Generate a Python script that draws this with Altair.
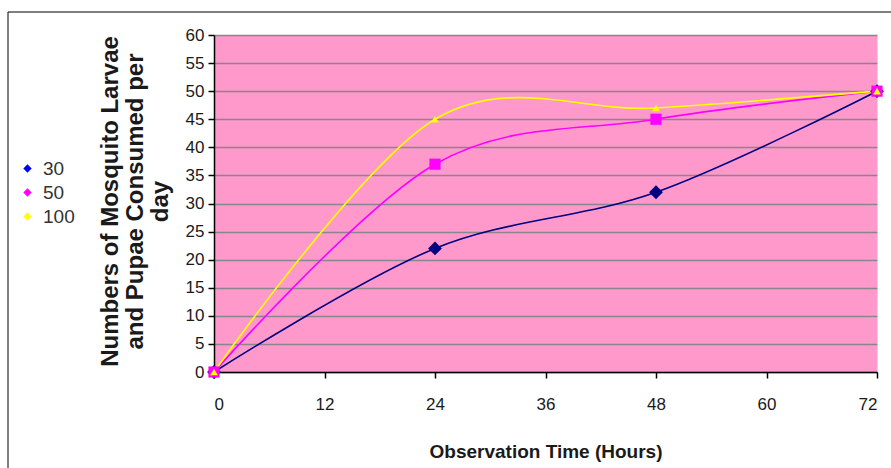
import altair as alt
import pandas as pd

hours = [0, 24, 48, 72]
series_names = ["30", "50", "100"]
s30 = [0, 22, 32, 50]
s50 = [0, 37, 45, 50]
s100 = [0, 45, 47, 50]
y_ticks = list(range(0, 61, 5))
x_ticks = [0, 12, 24, 36, 48, 60, 72]

rows = []
for name, vals in zip(series_names, [s30, s50, s100]):
    for h, v in zip(hours, vals):
        rows.append({"Hours": h, "Value": v, "Series": name})
df = pd.DataFrame(rows)

REG = "'Liberation Sans', Arial, sans-serif"

x_enc = alt.X(
    "Hours:Q",
    scale=alt.Scale(domain=[0, 72], nice=False, zero=False),
    axis=alt.Axis(
        values=x_ticks, grid=False, tickSize=6, tickColor="black", tickWidth=1.5,
        domainColor="black", domainWidth=1.5, labelOverlap=False,
        labelFont=REG, labelFontSize=17, labelColor="#1a1a1a", labelPadding=18,
        title="Observation Time (Hours)", titleFont=REG, titleFontSize=19,
        titleFontWeight="bold", titleColor="#1a1a1a", titlePadding=30,
    ),
)
y_enc = alt.Y(
    "Value:Q",
    scale=alt.Scale(domain=[0, 60], nice=False),
    axis=alt.Axis(
        values=y_ticks, grid=True, gridColor="#888888", gridWidth=1.5,
        tickSize=6, tickColor="black", tickWidth=1.5, labelOverlap=False,
        domainColor="black", domainWidth=1.5,
        labelFont=REG, labelFontSize=17, labelColor="#1a1a1a", labelPadding=4,
        title=["Numbers of Mosquito Larvae", "and Pupae Consumed per", "day"],
        titleFont=REG, titleFontSize=24, titleFontWeight="bold", titleColor="#1a1a1a",
        titleLineHeight=25, titleAngle=270, titleBaseline="middle", titleAlign="center",
        titleX=-104, titleY=166,
    ),
)

base = alt.Chart(df).encode(x=x_enc, y=y_enc)

lines = base.mark_line(interpolate="cardinal", strokeWidth=1.6).encode(
    stroke=alt.Stroke(
        "Series:N",
        scale=alt.Scale(domain=series_names, range=["#000080", "#FF00FF", "#FFFF00"]),
        legend=None,
    ),
    order=alt.Order("Hours:Q"),
)

points = base.mark_point(filled=True, opacity=1).encode(
    color=alt.Color(
        "Series:N",
        scale=alt.Scale(domain=series_names, range=["#000080", "#FF00FF", "#FFFF00"]),
        legend=None,
    ),
    shape=alt.Shape(
        "Series:N",
        scale=alt.Scale(domain=series_names, range=["diamond", "square", "triangle-up"]),
        legend=None,
    ),
    size=alt.Size(
        "Series:N",
        scale=alt.Scale(domain=series_names, range=[190, 60, 80]),
        legend=None,
    ),
)

legend_layer = base.transform_calculate(Label="datum.Series").mark_point(
    filled=True, opacity=0, shape="diamond"
).encode(
    fill=alt.Fill(
        "Label:N",
        scale=alt.Scale(domain=series_names, range=["#0000FF", "#FF00FF", "#FFFF00"]),
        legend=alt.Legend(
            title=None, orient="none", legendX=-196, legendY=124,
            symbolType="diamond", symbolSize=70, symbolOpacity=1, symbolStrokeWidth=0,
            labelFont=REG, labelFontSize=19, labelColor="#333333",
            rowPadding=4, labelOffset=6,
        ),
    ),
)

frame = alt.Chart(pd.DataFrame({"a": [0]})).mark_rect(
    fill="transparent", stroke="black", strokeWidth=1
).encode(
    x=alt.value(8 - 214), x2=alt.value(900 - 214),
    y=alt.value(12 - 35), y2=alt.value(480 - 35),
)

chart = alt.layer(frame, lines, points, legend_layer).properties(
    width=663, height=337,
    autosize=alt.AutoSizeParams(type="none"),
    padding={"left": 214, "top": 35, "right": 14, "bottom": 96},
    background="white",
).resolve_scale(fill="independent").configure_view(fill="#FF99CC", stroke="transparent")

chart.save("out.html", embed_options={"renderer": "svg", "actions": False})
